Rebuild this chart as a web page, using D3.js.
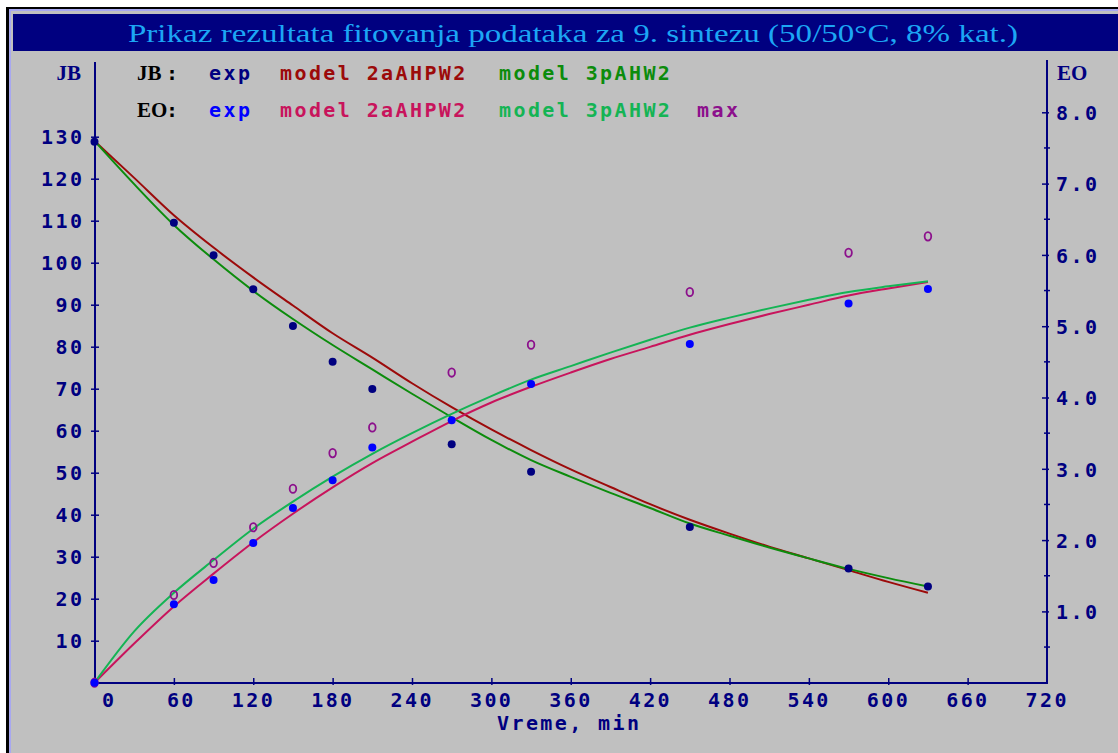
<!DOCTYPE html>
<html>
<head>
<meta charset="utf-8">
<script src="https://cdn.jsdelivr.net/npm/d3@7"></script>
<style>
body { margin: 0; background: #fff; }
svg { display: block; }
.mono { font-family: "DejaVu Sans Mono", monospace; font-weight: bold; font-size: 20px; letter-spacing: 2.4px; }
.serifb { font-family: "Liberation Serif", serif; font-weight: bold; font-size: 21px; }
</style>
</head>
<body>
<svg width="1118" height="753"></svg>
<script>
// measured points (time in min)
var times = [0, 60, 90, 120, 150, 180, 210, 270, 330, 450, 570, 630];
var jbExp = [128.8, 109.5, 101.8, 93.7, 84.9, 76.4, 69.9, 56.8, 50.2, 37.1, 27.2, 22.9];
var eoExp = [0, 1.10, 1.44, 1.96, 2.45, 2.84, 3.30, 3.68, 4.19, 4.75, 5.32, 5.52];
var eoMax = [0, 1.23, 1.68, 2.18, 2.72, 3.22, 3.58, 4.35, 4.74, 5.48, 6.03, 6.26];

// model curves read every 30 min
var modelTimes = [0, 30, 60, 90, 120, 150, 180, 210, 240, 270, 300, 330, 360, 390, 420, 450, 480, 510, 540, 570, 600, 630];
var jb2a = [129.0, 120.2, 111.3, 103.6, 96.5, 89.8, 83.2, 77.4, 71.3, 65.6, 60.3, 55.4, 50.8, 46.6, 42.5, 38.8, 35.5, 32.4, 29.6, 26.8, 24.0, 21.4];
var jb3p = [129.0, 118.7, 109.0, 100.8, 93.3, 86.6, 80.4, 74.6, 68.8, 63.2, 57.8, 53.0, 49.0, 45.2, 41.6, 37.9, 35.0, 32.2, 29.6, 27.1, 24.9, 22.9];
var eo2a = [0, 0.55, 1.07, 1.53, 1.97, 2.37, 2.74, 3.08, 3.38, 3.67, 3.93, 4.15, 4.35, 4.54, 4.71, 4.88, 5.03, 5.17, 5.30, 5.43, 5.53, 5.62];
var eo3p = [0, 0.72, 1.26, 1.72, 2.16, 2.54, 2.89, 3.21, 3.50, 3.77, 4.02, 4.25, 4.44, 4.63, 4.81, 4.98, 5.12, 5.25, 5.37, 5.48, 5.56, 5.63];

// tick labels
var xTicks = [0, 60, 120, 180, 240, 300, 360, 420, 480, 540, 600, 660, 720];
var jbTicks = [10, 20, 30, 40, 50, 60, 70, 80, 90, 100, 110, 120, 130];
var eoTicks = [1, 2, 3, 4, 5, 6, 7, 8];
var eoMinor = [0.5, 1.5, 2.5, 3.5, 4.5, 5.5, 6.5, 7.5];

var navy = '#000080';
var svg = d3.select('svg');

// frame and background
svg.append('rect').attr('x', 6).attr('y', 7).attr('width', 1120).attr('height', 760).attr('fill', '#000');
svg.append('rect').attr('x', 9).attr('y', 9).attr('width', 1120).attr('height', 760).attr('fill', '#a8a8f0');
svg.append('rect').attr('x', 11).attr('y', 11).attr('width', 1120).attr('height', 760).attr('fill', '#c0c0c0');
svg.append('rect').attr('x', 13).attr('y', 14).attr('width', 1110).attr('height', 37).attr('fill', navy);

svg.append('text')
    .attr('x', 573).attr('y', 42)
    .attr('text-anchor', 'middle')
    .attr('font-family', '"Liberation Serif", serif')
    .attr('font-size', 25)
    .attr('fill', '#1ca6f4')
    .attr('textLength', 890)
    .attr('lengthAdjust', 'spacingAndGlyphs')
    .text('Prikaz rezultata fitovanja podataka za 9. sintezu (50/50°C, 8% kat.)');

var x = d3.scaleLinear().domain([0, 720]).range([94.5, 1047]);
var yJB = d3.scaleLinear().domain([0, 130]).range([682.7, 136.7]);
var yEO = d3.scaleLinear().domain([0, 8]).range([682.7, 112.3]);

// axis lines
svg.append('line').attr('x1', 95).attr('x2', 95).attr('y1', 62).attr('y2', 683)
    .attr('stroke', navy).attr('stroke-width', 2);
svg.append('line').attr('x1', 1047).attr('x2', 1047).attr('y1', 60).attr('y2', 684)
    .attr('stroke', navy).attr('stroke-width', 2);
svg.append('line').attr('x1', 94).attr('x2', 1048).attr('y1', 683).attr('y2', 683)
    .attr('stroke', navy).attr('stroke-width', 2);

// x axis
var xAxis = svg.append('g')
    .attr('transform', 'translate(0,683)')
    .call(d3.axisBottom(x).tickValues(xTicks).tickSizeOuter(0));
xAxis.select('.domain').remove();
xAxis.selectAll('.tick line')
    .attr('y1', -5).attr('y2', 2)
    .attr('stroke', navy).attr('stroke-width', 1.5)
    .filter(function(d) { return d === 0 || d === 720; }).remove();
xAxis.selectAll('.tick text')
    .attr('class', 'mono')
    .attr('fill', navy)
    .attr('text-anchor', 'end')
    .attr('x', 21.4).attr('y', 24).attr('dy', null);

// left axis (JB)
var yAxisL = svg.append('g')
    .attr('transform', 'translate(95,0)')
    .call(d3.axisLeft(yJB).tickValues(jbTicks).tickSizeOuter(0));
yAxisL.select('.domain').remove();
yAxisL.selectAll('.tick line')
    .attr('x1', -4).attr('x2', 4)
    .attr('stroke', navy).attr('stroke-width', 1.5);
yAxisL.selectAll('.tick text')
    .attr('class', 'mono')
    .attr('fill', navy)
    .attr('x', -10.6).attr('dy', '0.36em');

// right axis (EO)
var yAxisR = svg.append('g')
    .attr('transform', 'translate(1047,0)')
    .call(d3.axisRight(yEO).tickValues(eoTicks).tickFormat(d3.format('.1f')).tickSizeOuter(0));
yAxisR.select('.domain').remove();
yAxisR.selectAll('.tick line')
    .attr('x1', -5).attr('x2', 2)
    .attr('stroke', navy).attr('stroke-width', 1.5);
yAxisR.selectAll('.tick text')
    .attr('class', 'mono')
    .attr('fill', navy)
    .attr('x', 9).attr('dy', '0.36em');
svg.append('g').selectAll('line')
    .data(eoMinor)
    .enter().append('line')
    .attr('x1', 1044).attr('x2', 1050)
    .attr('y1', function(d) { return yEO(d); })
    .attr('y2', function(d) { return yEO(d); })
    .attr('stroke', navy).attr('stroke-width', 1.5);

// axis titles
svg.append('text').attr('class', 'serifb').attr('x', 81).attr('y', 80)
    .attr('text-anchor', 'end').attr('fill', navy).text('JB');
svg.append('text').attr('class', 'serifb').attr('x', 1057).attr('y', 80)
    .attr('fill', navy).text('EO');
svg.append('text').attr('class', 'mono').attr('x', 497).attr('y', 730)
    .attr('fill', navy).text('Vreme, min');

// legend (text only)
var legendRows = [
    {y: 80, head: 'JB', items: [
        {x: 209, t: 'exp', c: navy},
        {x: 280, t: 'model 2aAHPW2', c: '#9c0a0a'},
        {x: 499, t: 'model 3pAHW2', c: '#0c8c0c'}]},
    {y: 117, head: 'EO', items: [
        {x: 209, t: 'exp', c: '#0000ff'},
        {x: 280, t: 'model 2aAHPW2', c: '#c8145c'},
        {x: 499, t: 'model 3pAHW2', c: '#14b454'},
        {x: 697, t: 'max', c: '#8c108c'}]}
];
legendRows.forEach(function(r) {
    svg.append('text').attr('class', 'serifb').attr('x', 137).attr('y', r.y)
        .attr('fill', '#000').text(r.head);
    svg.append('text').attr('class', 'mono').attr('x', 166).attr('y', r.y)
        .attr('fill', '#000').text(':');
    r.items.forEach(function(it) {
        svg.append('text').attr('class', 'mono').attr('x', it.x).attr('y', r.y)
            .attr('fill', it.c).text(it.t);
    });
});

// model curves
function drawCurve(vals, yScale, color) {
    var line = d3.line()
        .x(function(d, i) { return x(modelTimes[i]); })
        .y(function(d) { return yScale(d); })
        .curve(d3.curveMonotoneX);
    svg.append('path')
        .datum(vals)
        .attr('d', line)
        .attr('fill', 'none')
        .attr('stroke', color)
        .attr('stroke-width', 2);
}
drawCurve(jb2a, yJB, '#9c0a0a');
drawCurve(jb3p, yJB, '#0c8c0c');
drawCurve(eo2a, yEO, '#c8145c');
drawCurve(eo3p, yEO, '#14b454');

// measured markers
svg.append('g').selectAll('circle')
    .data(jbExp)
    .enter().append('circle')
    .attr('cx', function(d, i) { return x(times[i]); })
    .attr('cy', function(d) { return yJB(d); })
    .attr('r', 4)
    .attr('fill', navy);

svg.append('g').selectAll('ellipse')
    .data(eoMax)
    .enter().append('ellipse')
    .attr('cx', function(d, i) { return x(times[i]); })
    .attr('cy', function(d) { return yEO(d); })
    .attr('rx', 3.3).attr('ry', 4.2)
    .attr('fill', 'none')
    .attr('stroke', '#8c108c')
    .attr('stroke-width', 1.8);

svg.append('g').selectAll('circle')
    .data(eoExp)
    .enter().append('circle')
    .attr('cx', function(d, i) { return x(times[i]); })
    .attr('cy', function(d) { return yEO(d); })
    .attr('r', 4)
    .attr('fill', '#0000ff');
</script>
</body>
</html>
